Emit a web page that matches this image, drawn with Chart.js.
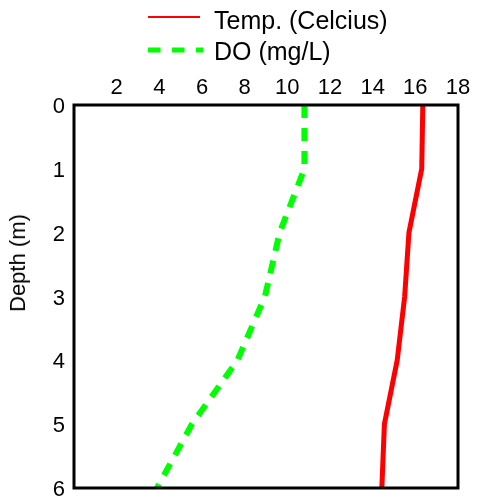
<!DOCTYPE html>
<html>
<head>
<meta charset="utf-8">
<script src="https://cdn.jsdelivr.net/npm/chart.js@4/dist/chart.umd.min.js"></script>
<style>
  html, body { margin: 0; padding: 0; background: #fff; }
  #wrap { position: relative; width: 477px; height: 498px; font-family: "Liberation Sans", Arial, sans-serif; color: #000; }
  #c { position: absolute; left: 0; top: 0; }
  .legline { position: absolute; left: 148px; }
  .legtext { position: absolute; left: 214px; font-size: 25px; line-height: 25px; white-space: nowrap; }
  #ytitle { position: absolute; left: 18px; top: 263px; transform: translate(-50%, -50%) rotate(-90deg); font-size: 22px; white-space: nowrap; }
</style>
</head>
<body>
<div id="wrap">
  <canvas id="c" width="477" height="498"></canvas>
  <svg class="legline" width="60" height="10" style="top:12px"><line x1="0" y1="5" x2="52" y2="5" stroke="#ff0000" stroke-width="2"/></svg>
  <span class="legtext" id="l1" style="top:8px"></span>
  <svg class="legline" width="60" height="10" style="top:45px"><line x1="0" y1="5" x2="55" y2="5" stroke="#00ff00" stroke-width="5" stroke-dasharray="12.5 11.5"/></svg>
  <span class="legtext" id="l2" style="top:39px"></span>
  <div id="ytitle"></div>
</div>
<script>
const depths = [0, 1, 2, 3, 4, 5, 6];
const tempCelcius = [16.35, 16.3, 15.7, 15.5, 15.15, 14.55, 14.43];
const dissolvedOxygen = [10.8, 10.8, 9.64, 8.95, 7.66, 5.53, 3.89];
const seriesNames = ["Temp. (Celcius)", "DO (mg/L)"];
const yAxisTitle = "Depth (m)";

document.getElementById('l1').textContent = seriesNames[0];
document.getElementById('l2').textContent = seriesNames[1];
document.getElementById('ytitle').textContent = yAxisTitle;

const FONT = "'Liberation Sans', Arial, sans-serif";

const borderPlugin = {
  id: 'plotBorder',
  afterDatasetsDraw(chart) {
    const a = chart.chartArea, ctx = chart.ctx;
    ctx.save();
    ctx.strokeStyle = '#000';
    ctx.lineWidth = 3;
    ctx.strokeRect(a.left, a.top, a.right - a.left, a.bottom - a.top);
    ctx.restore();
  }
};

new Chart(document.getElementById('c'), {
  type: 'scatter',
  data: {
    datasets: [
      {
        label: seriesNames[0],
        data: depths.map((d, i) => ({ x: tempCelcius[i], y: d })),
        showLine: true,
        borderColor: '#ff0000',
        borderWidth: 5,
        pointRadius: 0,
        tension: 0,
        fill: false
      },
      {
        label: seriesNames[1],
        data: depths.map((d, i) => ({ x: dissolvedOxygen[i], y: d })),
        showLine: true,
        borderColor: '#00ff00',
        borderWidth: 6,
        borderDash: [13, 10],
        borderCapStyle: 'butt',
        pointRadius: 0,
        tension: 0,
        fill: false
      }
    ]
  },
  options: {
    responsive: false,
    animation: false,
    devicePixelRatio: 1,
    layout: { padding: { left: 0, right: 19, top: 0, bottom: 10 } },
    plugins: { legend: { display: false }, tooltip: { enabled: false } },
    scales: {
      x: {
        type: 'linear',
        position: 'top',
        min: 0, max: 18,
        grid: { display: false, drawTicks: false },
        border: { display: false },
        ticks: {
          stepSize: 2,
          padding: 4,
          color: '#000',
          font: { family: FONT, size: 22 },
          callback: v => (v === 0 ? '' : v)
        },
        afterFit(s) { s.height = 105; s.paddingLeft = 0; s.paddingRight = 0; }
      },
      y: {
        type: 'linear',
        reverse: true,
        min: 0, max: 6,
        grid: { display: false, drawTicks: false },
        border: { display: false },
        ticks: {
          stepSize: 1,
          padding: 9,
          labelOffset: 2,
          color: '#000',
          font: { family: FONT, size: 22 }
        },
        afterFit(s) { s.width = 74; s.paddingTop = 0; s.paddingBottom = 0; }
      }
    }
  },
  plugins: [borderPlugin]
});
</script>
</body>
</html>
